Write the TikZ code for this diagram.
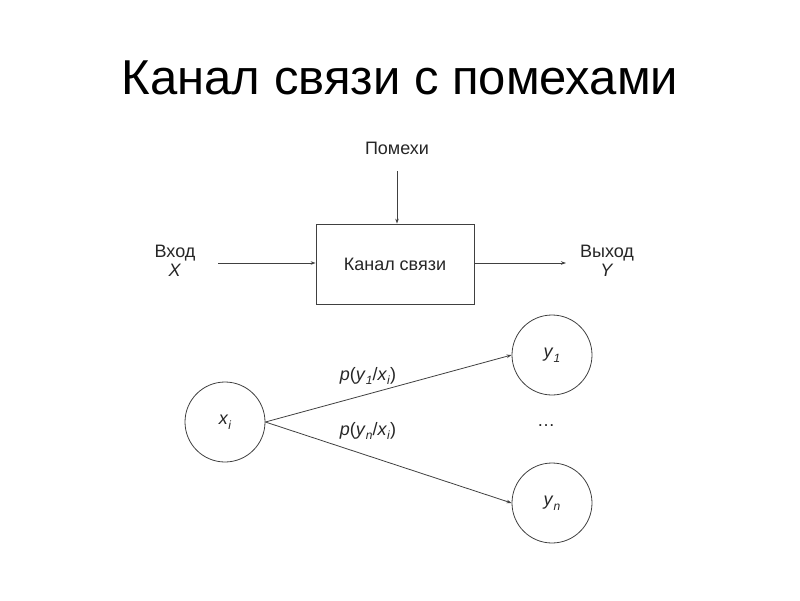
\documentclass[tikz,border=0pt]{standalone}
\usepackage{amsmath}
\usepackage{fontspec}
\setmainfont{Liberation Sans}
\usetikzlibrary{arrows.meta, positioning}
\tikzstyle{channel} = [rectangle, minimum width=158pt, minimum height=80pt, text centered, draw=black!75, line width=0.8pt]
\tikzstyle{state} = [circle, minimum size=80pt, inner sep=0pt, draw=black!75, line width=0.8pt]
\tikzstyle{txt} = [font=\fontsize{18}{21}\selectfont, text=black!85]
\tikzstyle{arrow} = [line width=0.8pt, draw=black!75, -{Stealth[length=5pt,width=3.5pt]}]
\newcommand{\sub}[1]{\raisebox{-4.5pt}{\fontsize{12}{12}\selectfont\textit{#1}}}

\begin{document}
\begin{tikzpicture}[x=1pt, y=-1pt]
	\useasboundingbox (0,0) rectangle (800,600);

	% Title
	\node (title) at (400,78) [font=\fontsize{49}{55}\selectfont] {Канал связи с помехами};

	% Block diagram
	\node (chan) [channel, txt] at (395,264) {Канал связи};
	\node (noise) [txt] at (397,148) {Помехи};
	\node (input) [txt, align=center] at (175,261) {Вход\\[-2pt]\textit{X}};
	\node (output) [txt, align=center] at (607,261) {Выход\\[-2pt]\textit{Y}};
	\coordinate (noisestart) at (397,171);
	\coordinate (instart) at (218,263);
	\coordinate (outend) at (566,263);

	\draw [arrow] (noisestart) -- (noisestart |- chan.north);
	\draw [arrow] (instart) -- (chan.west |- instart);
	\draw [arrow] (chan.east |- instart) -- (outend);

	% Transition graph
	\node (xi) [state, txt] at (225,422) {\textit{x}\sub{i}};
	\node (y1) [state, txt] at (552,355) {\textit{y}\sub{1}};
	\node (yn) [state, txt] at (552,503) {\textit{y}\sub{n}};
	\node (dots) [txt] at (546,426) {\dots};

	\draw [arrow] (xi.east) -- (y1.west);
	\draw [arrow] (xi.east) -- (yn.west);
	\node (p1) [txt] at (368,376) {\textit{p}(\textit{y}\sub{1}/\textit{x}\sub{i})};
	\node (pn) [txt] at (368,431) {\textit{p}(\textit{y}\sub{n}/\textit{x}\sub{i})};

\end{tikzpicture}
\end{document}
